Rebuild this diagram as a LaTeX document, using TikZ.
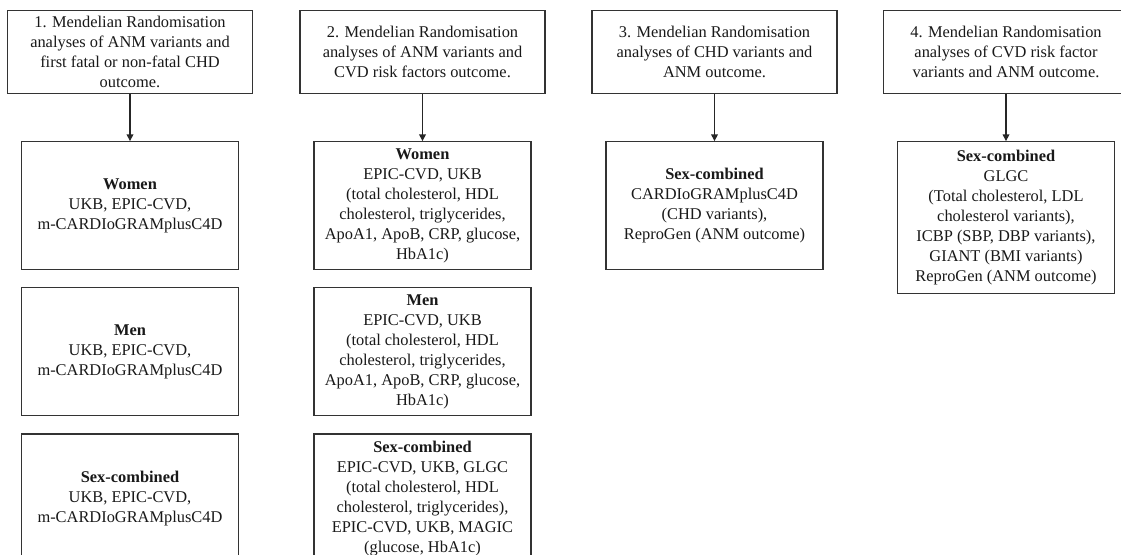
\documentclass[tikz,border=0pt]{standalone}
\usepackage{fontspec}
\setmainfont{Liberation Serif}
\usepackage{tikz}
\usetikzlibrary{arrows.meta, positioning}

\begin{document}
\begin{tikzpicture}[
    x=0.75pt, y=-0.75pt,
    node distance=12.75pt,
    head/.style={draw=black!80, line width=0.9pt, minimum width=183.75pt,
                 minimum height=62.25pt, inner sep=1pt, align=center,
                 text=black!90, font=\fontsize{12.3}{15}\selectfont},
    grp/.style={draw=black!80, line width=0.9pt, minimum width=162.75pt,
                minimum height=96pt, inner sep=2pt, align=center,
                text=black!90, font=\fontsize{12.3}{15}\selectfont},
    arr/.style={-{Triangle[length=5pt, width=5pt]}, line width=0.9pt, draw=black!85}
  ]
  \clip (0,0) rectangle (1121,555);
  \fill[white] (0,0) rectangle (1121,555);
  \node[head] (h1) at (130,52) {1. Mendelian Randomisation\\analyses of ANM variants and\\first fatal or non-fatal CHD\\outcome.};
  \node[head] (h2) at (422.5,52) {2. Mendelian Randomisation\\analyses of ANM variants and\\CVD risk factors outcome.};
  \node[head] (h3) at (714.5,52) {3. Mendelian Randomisation\\analyses of CHD variants and\\ANM outcome.};
  \node[head] (h4) at (1006,52) {4. Mendelian Randomisation\\analyses of CVD risk factor\\variants and ANM outcome.};

  \node[grp, below=35.25pt of h1] (w1) {\textbf{Women}\\UKB, EPIC-CVD,\\m-CARDIoGRAMplusC4D};
  \node[grp, below=of w1] (m1) {\textbf{Men}\\UKB, EPIC-CVD,\\m-CARDIoGRAMplusC4D};
  \node[grp, below=of m1] (s1) {\textbf{Sex-combined}\\UKB, EPIC-CVD,\\m-CARDIoGRAMplusC4D};

  \node[grp, below=35.25pt of h2] (w2) {\textbf{Women}\\EPIC-CVD, UKB\\(total cholesterol, HDL\\cholesterol, triglycerides,\\ApoA1, ApoB, CRP, glucose,\\HbA1c)};
  \node[grp, below=of w2] (m2) {\textbf{Men}\\EPIC-CVD, UKB\\(total cholesterol, HDL\\cholesterol, triglycerides,\\ApoA1, ApoB, CRP, glucose,\\HbA1c)};
  \node[grp, below=of m2] (s2) {\textbf{Sex-combined}\\EPIC-CVD, UKB, GLGC\\(total cholesterol, HDL\\cholesterol, triglycerides),\\EPIC-CVD, UKB, MAGIC\\(glucose, HbA1c)};

  \node[grp, below=35.25pt of h3] (s3) {\textbf{Sex-combined}\\CARDIoGRAMplusC4D\\(CHD variants),\\ReproGen (ANM outcome)};
  \node[grp, below=35.25pt of h4, minimum height=114pt] (s4) {\textbf{Sex-combined}\\GLGC\\(Total cholesterol, LDL\\cholesterol variants),\\ICBP (SBP, DBP variants),\\GIANT (BMI variants)\\ReproGen (ANM outcome)};

  \draw[arr] (h1) -- (w1);
  \draw[arr] (h2) -- (w2);
  \draw[arr] (h3) -- (s3);
  \draw[arr] (h4) -- (s4);
\end{tikzpicture}
\end{document}
